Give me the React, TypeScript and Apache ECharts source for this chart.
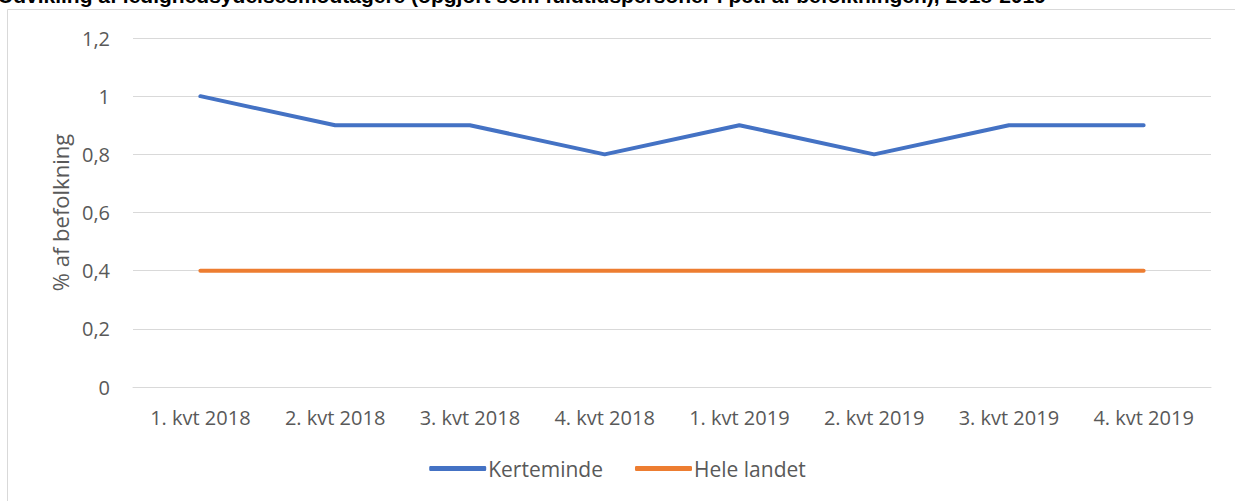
import React, { useEffect, useRef } from "react";
import * as echarts from "echarts";

const categories = ["1. kvt 2018", "2. kvt 2018", "3. kvt 2018", "4. kvt 2018", "1. kvt 2019", "2. kvt 2019", "3. kvt 2019", "4. kvt 2019"];
const kerteminde = [1, 0.9, 0.9, 0.8, 0.9, 0.8, 0.9, 0.9];
const heleLandet = [0.4, 0.4, 0.4, 0.4, 0.4, 0.4, 0.4, 0.4];
const titleText = "Udvikling af ledighedsydelsesmodtagere (opgjort som fuldtidspersoner i pct. af befolkningen), 2018-2019";

const FONT = "'Open Sans', 'Noto Sans', sans-serif";

export default function App() {
  const ref = useRef<HTMLDivElement>(null);
  useEffect(() => {
    if (!ref.current) return;
    const chart = echarts.init(ref.current, null, { renderer: "svg" });
    chart.setOption({
      animation: false,
      backgroundColor: "#ffffff",
      textStyle: { fontFamily: FONT },
      graphic: [
        {
          type: "rect",
          shape: { x: 7.5, y: 9.5, width: 1300, height: 600 },
          style: { fill: "none", stroke: "#d9d9d9", lineWidth: 1 },
          silent: true,
        },
        {
          type: "text",
          x: -2,
          y: 6,
          style: {
            text: titleText,
            fontFamily: "'Liberation Sans', Arial, sans-serif",
            fontWeight: "bold",
            fontSize: 21,
            fill: "#000000",
            verticalAlign: "bottom",
          },
        },
      ],
      grid: { left: 133, right: 24, top: 38, bottom: 114, containLabel: false },
      legend: {
        bottom: 17,
        left: "center",
        icon: "roundRect",
        itemWidth: 57,
        itemHeight: 5,
        itemGap: 32,
        textStyle: { color: "#595959", fontSize: 21, fontFamily: FONT, padding: [0, 0, 0, -3] },
        data: ["Kerteminde", "Hele landet"],
      },
      xAxis: {
        type: "category",
        data: categories,
        boundaryGap: true,
        axisLine: { show: true, lineStyle: { color: "#d9d9d9", width: 1 } },
        axisTick: { show: false },
        axisLabel: { color: "#595959", fontSize: 20, margin: 20, fontFamily: FONT },
      },
      yAxis: {
        type: "value",
        min: 0,
        max: 1.2,
        interval: 0.2,
        name: "% af befolkning",
        nameLocation: "middle",
        nameRotate: 90,
        nameGap: 60,
        nameTextStyle: { color: "#595959", fontSize: 22, fontFamily: FONT },
        axisLine: { show: false },
        axisTick: { show: false },
        splitLine: { lineStyle: { color: "#d9d9d9", width: 1 } },
        axisLabel: {
          color: "#595959",
          fontSize: 20,
          margin: 23,
          fontFamily: FONT,
          formatter: (v: number) => String(Math.round(v * 10) / 10).replace(".", ","),
        },
      },
      series: [
        {
          name: "Kerteminde",
          type: "line",
          data: kerteminde,
          showSymbol: false,
          symbol: "none",
          lineStyle: { color: "#4472C4", width: 4, cap: "round", join: "round" },
          itemStyle: { color: "#4472C4" },
        },
        {
          name: "Hele landet",
          type: "line",
          data: heleLandet,
          showSymbol: false,
          symbol: "none",
          lineStyle: { color: "#ED7D31", width: 4, cap: "round" },
          itemStyle: { color: "#ED7D31" },
        },
      ],
    });
    return () => chart.dispose();
  }, []);
  return (
    <div
      ref={ref}
      style={{ position: "absolute", left: 0, top: 0, width: 1235, height: 501 }}
    />
  );
}
